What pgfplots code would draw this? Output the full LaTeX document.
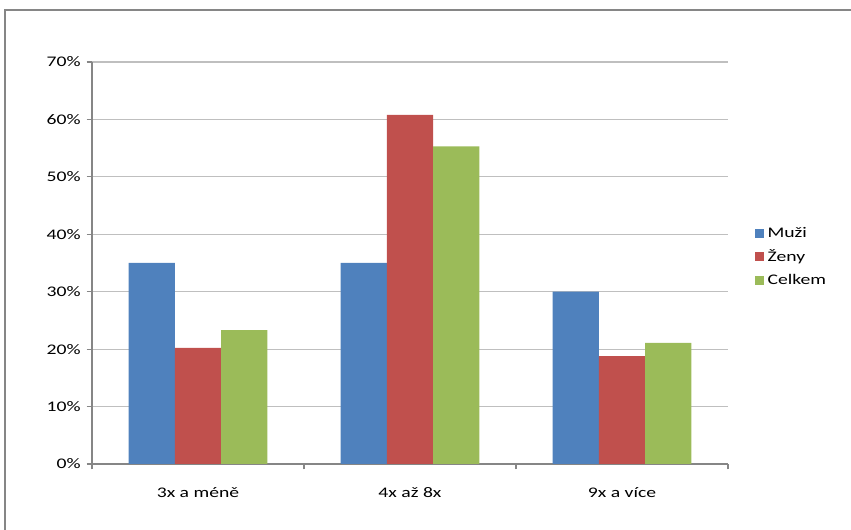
\documentclass[border=0pt]{standalone}
\usepackage{pgfplots}
\pgfplotsset{compat=1.18}
\usepackage{fontspec}
\setmainfont{Carlito}[FakeStretch=1.34]
\definecolor{cblue}{HTML}{4F81BD}
\definecolor{cred}{HTML}{C0504D}
\definecolor{cgreen}{HTML}{9BBB59}
\definecolor{axgray}{HTML}{868686}
\definecolor{gridgray}{HTML}{BFBFBF}
\begin{document}
\begin{tikzpicture}
\useasboundingbox (0pt,0pt) rectangle (638.25pt,-397.5pt);
\clip (0pt,0pt) rectangle (638.25pt,-397.5pt);
\draw[axgray, line width=0.8pt] (3.75pt,-450pt) -- (3.75pt,-7.5pt) -- (700pt,-7.5pt);
\begin{axis}[
  at={(69pt,-348pt)}, anchor=south west,
  scale only axis, width=477pt, height=301.5pt,
  ybar=0pt, bar width=34.7pt,
  xmin=-0.5, xmax=2.5, ymin=0, ymax=70,
  xtick={0,1,2}, xticklabels={3x a méně,4x až 8x,9x a více},
  minor xtick={-0.5,0.5,1.5,2.5},
  ytick={0,10,...,70},
  yticklabels={0\%,10\%,20\%,30\%,40\%,50\%,60\%,70\%},
  axis x line*=bottom, axis y line*=left,
  axis line style={axgray, line width=0.8pt, -},
  tick align=outside,
  major tick length=4pt, minor tick length=4pt,
  xtick style={draw=none},
  minor x tick style={draw=axgray, line width=0.8pt},
  ytick style={axgray, line width=0.8pt},
  ymajorgrids, major grid style={gridgray, line width=0.8pt},
  tick label style={font=\fontsize{11pt}{13pt}\selectfont, text=black},
  xticklabel style={yshift=-10pt},
  yticklabel style={xshift=-1pt},
  legend style={at={(1.035,0.515)}, anchor=west, draw=none, fill=none,
    font=\fontsize{11pt}{13pt}\selectfont, row sep=4pt,
    /tikz/every odd column/.append style={column sep=1pt}},
  legend cell align=left,
  legend image code/.code={\fill[#1] (0pt,-3.4pt) rectangle (6.8pt,3.4pt);},
]
\addplot[fill=cblue, draw=none] coordinates {(0,35) (1,35) (2,30)};
\addplot[fill=cred, draw=none] coordinates {(0,20.2) (1,60.8) (2,18.8)};
\addplot[fill=cgreen, draw=none] coordinates {(0,23.3) (1,55.3) (2,21.1)};
\legend{Muži,Ženy,Celkem}
\end{axis}
\end{tikzpicture}
\end{document}
